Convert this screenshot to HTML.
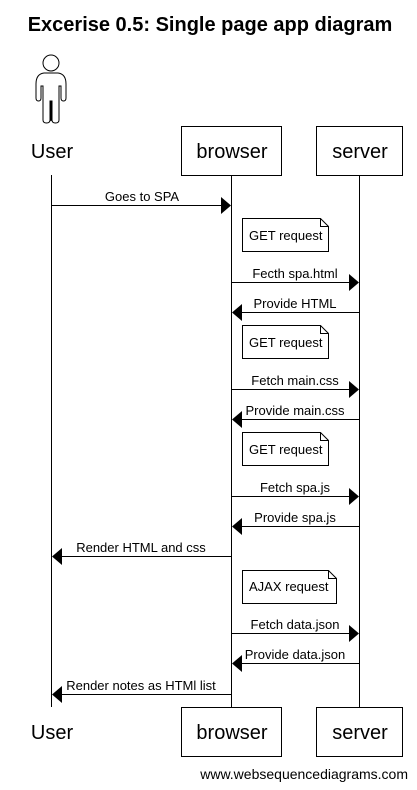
<!DOCTYPE html>
<html><head><style>
body{margin:0;background:#fff;}
svg{display:block;font-family:"Liberation Sans",Arial,sans-serif;}
</style></head><body>
<svg width="417" height="790" viewBox="0 0 417 790">
<text x="210" y="31" text-anchor="middle" font-size="20" font-weight="bold">Excerise 0.5: Single page app diagram</text>
<g fill="none" stroke="#000" stroke-width="1">
<circle cx="51" cy="63" r="8"/>
<path d="M44 73 Q36 74 36 84 L36 98 Q36 101 38.5 101 Q41 101 41 98 L41 86 L43 86 L43 120 Q43 123 46.5 123 Q50 123 50 120 L50 101 L52 101 L52 120 Q52 123 55.5 123 Q59 123 59 120 L59 86 L61 86 L61 98 Q61 101 63.5 101 Q66 101 66 98 L66 84 Q66 74 58 73 Z"/>
<line x1="51" y1="101" x2="51" y2="121"/>
<rect x="181.5" y="126.5" width="100" height="49"/>
<rect x="316.5" y="126.5" width="86" height="49"/>
<rect x="181.5" y="707.5" width="100" height="49"/>
<rect x="316.5" y="707.5" width="86" height="49"/>
<line x1="51.5" y1="175" x2="51.5" y2="707"/>
<line x1="231.5" y1="175" x2="231.5" y2="707"/>
<line x1="359.5" y1="175" x2="359.5" y2="707"/>
<path d="M242.5 218.5 H320.5 L328.5 226.5 V251.5 H242.5 Z M320.5 218.5 V226.5 H328.5"/>
<path d="M242.5 325.5 H320.5 L328.5 333.5 V358.5 H242.5 Z M320.5 325.5 V333.5 H328.5"/>
<path d="M242.5 432.5 H320.5 L328.5 440.5 V465.5 H242.5 Z M320.5 432.5 V440.5 H328.5"/>
<path d="M242.5 570.5 H328.5 L336.5 578.5 V603.5 H242.5 Z M328.5 570.5 V578.5 H336.5"/>
<line x1="51.5" y1="205.5" x2="222" y2="205.5"/>
<line x1="231.5" y1="282.5" x2="350" y2="282.5"/>
<line x1="241" y1="312.5" x2="359.5" y2="312.5"/>
<line x1="231.5" y1="389.5" x2="350" y2="389.5"/>
<line x1="241" y1="419.5" x2="359.5" y2="419.5"/>
<line x1="231.5" y1="496.5" x2="350" y2="496.5"/>
<line x1="241" y1="526.5" x2="359.5" y2="526.5"/>
<line x1="61" y1="556.5" x2="231.5" y2="556.5"/>
<line x1="231.5" y1="633.5" x2="350" y2="633.5"/>
<line x1="241" y1="663.5" x2="359.5" y2="663.5"/>
<line x1="61" y1="694.5" x2="231.5" y2="694.5"/>
</g>
<g fill="#000">
<polygon points="221,197 231,205.5 221,214"/>
<polygon points="349,274 359,282.5 349,291"/>
<polygon points="242,304 232,312.5 242,321"/>
<polygon points="349,381 359,389.5 349,398"/>
<polygon points="242,411 232,419.5 242,428"/>
<polygon points="349,488 359,496.5 349,505"/>
<polygon points="242,518 232,526.5 242,535"/>
<polygon points="62,548 52,556.5 62,565"/>
<polygon points="349,625 359,633.5 349,642"/>
<polygon points="242,655 232,663.5 242,672"/>
<polygon points="62,686 52,694.5 62,703"/>
</g>
<g font-size="20">
<text x="52" y="158" text-anchor="middle">User</text>
<text x="232" y="158" text-anchor="middle">browser</text>
<text x="360" y="158" text-anchor="middle">server</text>
<text x="52" y="739" text-anchor="middle">User</text>
<text x="232" y="739" text-anchor="middle">browser</text>
<text x="360" y="739" text-anchor="middle">server</text>
</g>
<g font-size="13">
<text x="142" y="201" text-anchor="middle">Goes to SPA</text>
<text x="295" y="278" text-anchor="middle">Fecth spa.html</text>
<text x="295" y="308" text-anchor="middle">Provide HTML</text>
<text x="295" y="385" text-anchor="middle">Fetch main.css</text>
<text x="295" y="415" text-anchor="middle">Provide main.css</text>
<text x="295" y="492" text-anchor="middle">Fetch spa.js</text>
<text x="295" y="522" text-anchor="middle">Provide spa.js</text>
<text x="141" y="552" text-anchor="middle">Render HTML and css</text>
<text x="295" y="629" text-anchor="middle">Fetch data.json</text>
<text x="295" y="659" text-anchor="middle">Provide data.json</text>
<text x="141" y="690" text-anchor="middle">Render notes as HTMl list</text>
<text x="249" y="240">GET request</text>
<text x="249" y="347">GET request</text>
<text x="249" y="454">GET request</text>
<text x="249" y="591">AJAX request</text>
</g>
<text x="408" y="779" text-anchor="end" font-size="14">www.websequencediagrams.com</text>
</svg>
</body></html>
